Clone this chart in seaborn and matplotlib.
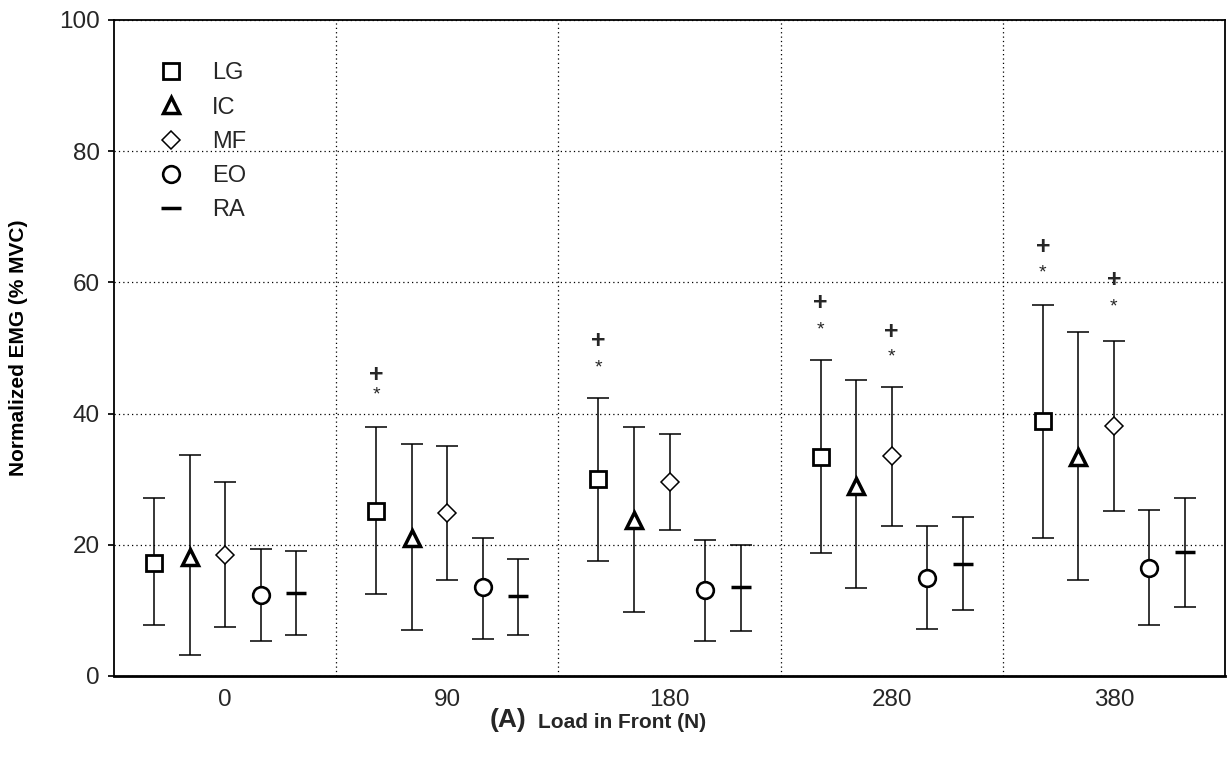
import numpy as np
import matplotlib
matplotlib.use("Agg")
import matplotlib.pyplot as plt
from matplotlib.lines import Line2D
import seaborn as sns

# ---- data ----
loads = ["0", "90", "180", "280", "380"]
muscles = ["LG", "IC", "MF", "EO", "RA"]

lg_mean = [17.3, 25.2, 30.0, 33.4, 38.8]
lg_hi = [27.1, 37.9, 42.4, 48.1, 56.6]
lg_lo = [7.7, 12.5, 17.6, 18.8, 21.0]

ic_mean = [18.2, 21.0, 23.8, 29.0, 33.4]
ic_hi = [33.7, 35.4, 38.0, 45.1, 52.4]
ic_lo = [3.2, 7.0, 9.75, 13.4, 14.6]

mf_mean = [18.5, 24.8, 29.6, 33.5, 38.1]
mf_hi = [29.5, 35.0, 36.9, 44.1, 51.0]
mf_lo = [7.5, 14.7, 22.3, 22.9, 25.1]

eo_mean = [12.3, 13.5, 13.1, 15.0, 16.5]
eo_hi = [19.4, 21.1, 20.8, 22.8, 25.3]
eo_lo = [5.3, 5.7, 5.4, 7.2, 7.8]

ra_mean = [12.7, 12.2, 13.5, 17.1, 18.9]
ra_hi = [19.1, 17.9, 20.0, 24.2, 27.2]
ra_lo = [6.25, 6.3, 6.9, 10.0, 10.5]

# significance marks: (load index, muscle, "+" level, "*" level)
sig_group = [1, 2, 3, 3, 4, 4]
sig_muscle = ["LG", "LG", "LG", "MF", "LG", "MF"]
sig_plus = [45.9, 51.1, 56.8, 52.4, 65.4, 60.4]
sig_star = [42.8, 47.0, 52.7, 48.7, 61.5, 56.2]

yticks = [0, 20, 40, 60, 80, 100]

# ---- style ----
sns.set_theme(style="white")
plt.rcParams["font.family"] = ["Liberation Sans", "DejaVu Sans"]

fig = plt.figure(figsize=(12.28, 7.6), dpi=100)
ax = fig.add_axes([114 / 1228, 84 / 760, 1111 / 1228, 656 / 760])

series = {
    "LG": (lg_mean, lg_lo, lg_hi, dict(marker="s", ms=11.8, mew=2.0, mfc="white")),
    "IC": (ic_mean, ic_lo, ic_hi, dict(marker="^", ms=11.5, mew=2.5, mfc="white")),
    "MF": (mf_mean, mf_lo, mf_hi, dict(marker="D", ms=9.2, mew=1.1, mfc="white")),
    "EO": (eo_mean, eo_lo, eo_hi, dict(marker="o", ms=12, mew=1.9, mfc="white")),
    "RA": (ra_mean, ra_lo, ra_hi, dict(marker="_", ms=14, mew=2.5)),
}
offsets = {m: (i - 2) * 0.16 for i, m in enumerate(muscles)}
base = np.arange(len(loads))

handles = []
for m in muscles:
    mean, lo, hi, st = series[m]
    mean = np.asarray(mean); lo = np.asarray(lo); hi = np.asarray(hi)
    x = base + offsets[m]
    ax.errorbar(x, mean, yerr=[mean - lo, hi - mean], fmt="none", ecolor="black",
                elinewidth=1.1, capsize=8, capthick=1.1, zorder=3)
    ax.plot(x, mean, linestyle="none", color="black", mec="black", zorder=4, **st)
    handles.append(Line2D([], [], linestyle="none", color="black", mec="black", **st))

for g, m, p, s in zip(sig_group, sig_muscle, sig_plus, sig_star):
    xx = base[g] + offsets[m]
    ax.text(xx, p, "+", ha="center", va="center", fontsize=18, fontweight="bold")
    ax.text(xx, s, "*", ha="center", va="center", fontsize=14)

ax.set_xlim(-0.5, len(loads) - 0.5)
ax.set_ylim(0, 100)
ax.set_yticks(yticks)
ax.set_xticks(base)
ax.set_xticklabels(loads)
ax.set_xticks(base[:-1] + 0.5, minor=True)
ax.tick_params(axis="x", which="major", length=0, labelsize=17.5, pad=9)
ax.tick_params(axis="x", which="minor", length=5, direction="in", color="black")
ax.tick_params(axis="y", which="major", length=4, direction="out", labelsize=17.5, pad=6,
               color="black", left=True)

ax.grid(False)
ax.yaxis.grid(True, which="major", linestyle=(0, (1, 2.5)), color="black", linewidth=0.9)
ax.xaxis.grid(True, which="minor", linestyle=(0, (1, 2.5)), color="black", linewidth=0.9)
for sp in ax.spines.values():
    sp.set_visible(True)
    sp.set_color("black")
    sp.set_linewidth(1.3)
ax.spines["bottom"].set_linewidth(2.0)

ax.set_ylabel("Normalized EMG (% MVC)", fontsize=15, fontweight="bold", color="black")
ax.yaxis.set_label_coords(-0.0774, 0.5)

fig.text(508 / 1228, 1 - 720 / 760, "(A)", ha="center", va="center", fontsize=19, fontweight="bold")
fig.text(538 / 1228, 1 - 722 / 760, "Load in Front (N)", ha="left", va="center", fontsize=15, fontweight="bold")

leg = ax.legend(handles, muscles, loc="upper left", bbox_to_anchor=(0.0322, 0.950),
                frameon=False, fontsize=17, handlelength=1.0, handletextpad=1.24,
                labelspacing=0.52, borderaxespad=0)

fig.savefig("out.png", dpi=100)
